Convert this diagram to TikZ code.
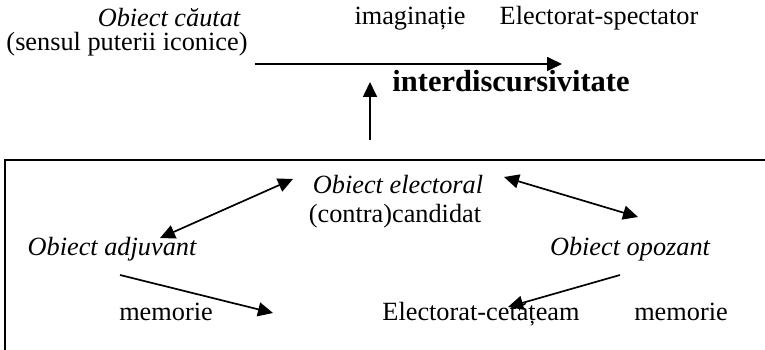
\documentclass[tikz,border=0pt]{standalone}
\usepackage{fontspec}
\setmainfont{Liberation Serif}
\usetikzlibrary{arrows.meta}
\begin{document}
\begin{tikzpicture}[x=1pt,y=-1pt,
  txt/.style={inner sep=0pt,anchor=base,font=\fontsize{26.3}{31}\selectfont},
  itxt/.style={txt,font=\fontsize{26.3}{31}\selectfont\itshape},
  btxt/.style={inner sep=0pt,anchor=base,font=\fontsize{30.5}{36}\selectfont\bfseries},
  conn/.style={line width=1.7pt,-{Triangle[length=15pt,width=14pt]}},
  dconn/.style={line width=1.7pt,{Triangle[length=15pt,width=14pt]}-{Triangle[length=15pt,width=14pt]}},
  frame/.style={line width=2pt}]
\useasboundingbox (0,0) rectangle (765,350);
\clip (0,0) rectangle (765,350);
% top texts
\node[itxt] (cautat) at (169,27) {Obiect căutat};
\node[txt] (sensul) at (127,51) {(sensul puterii iconice)};
\node[txt] (imag) at (410,25) {imaginație};
\node[txt] (spect) at (599,25) {Electorat-spectator};
\node[btxt] (inter) at (511,92) {interdiscursivitate};
% box
\draw[frame] (5,160) rectangle (775,360);
% box texts
\node[itxt] (elect) at (398,193) {Obiect electoral};
\node[txt] (cand) at (395,222) {(contra)candidat};
\node[itxt] (adj) at (112,255) {Obiect adjuvant};
\node[itxt] (opoz) at (630,255) {Obiect opozant};
\node[txt] (mem1) at (166,320) {memorie};
\node[txt] (cet) at (481,320) {Electorat-cetățeam};
\node[txt] (mem2) at (681,320) {memorie};
% connector coordinates
\coordinate (hs) at (255,64);
\coordinate (he) at (562,64);
\coordinate (vs) at (370,140);
\coordinate (ve) at (370,82);
\coordinate (a1) at (160,238);
\coordinate (a2) at (293,179);
\coordinate (b1) at (504,177);
\coordinate (b2) at (638,217);
\coordinate (c1) at (120,275);
\coordinate (c2) at (273,313);
\coordinate (d1) at (620,275);
\coordinate (d2) at (508,307);
% connectors
\draw[conn] (hs) -- (he);
\draw[conn] (vs) -- (ve);
\draw[dconn] (a1) -- (a2);
\draw[dconn] (b1) -- (b2);
\draw[conn] (c1) -- (c2);
\draw[conn] (d1) -- (d2);
\end{tikzpicture}
\end{document}
